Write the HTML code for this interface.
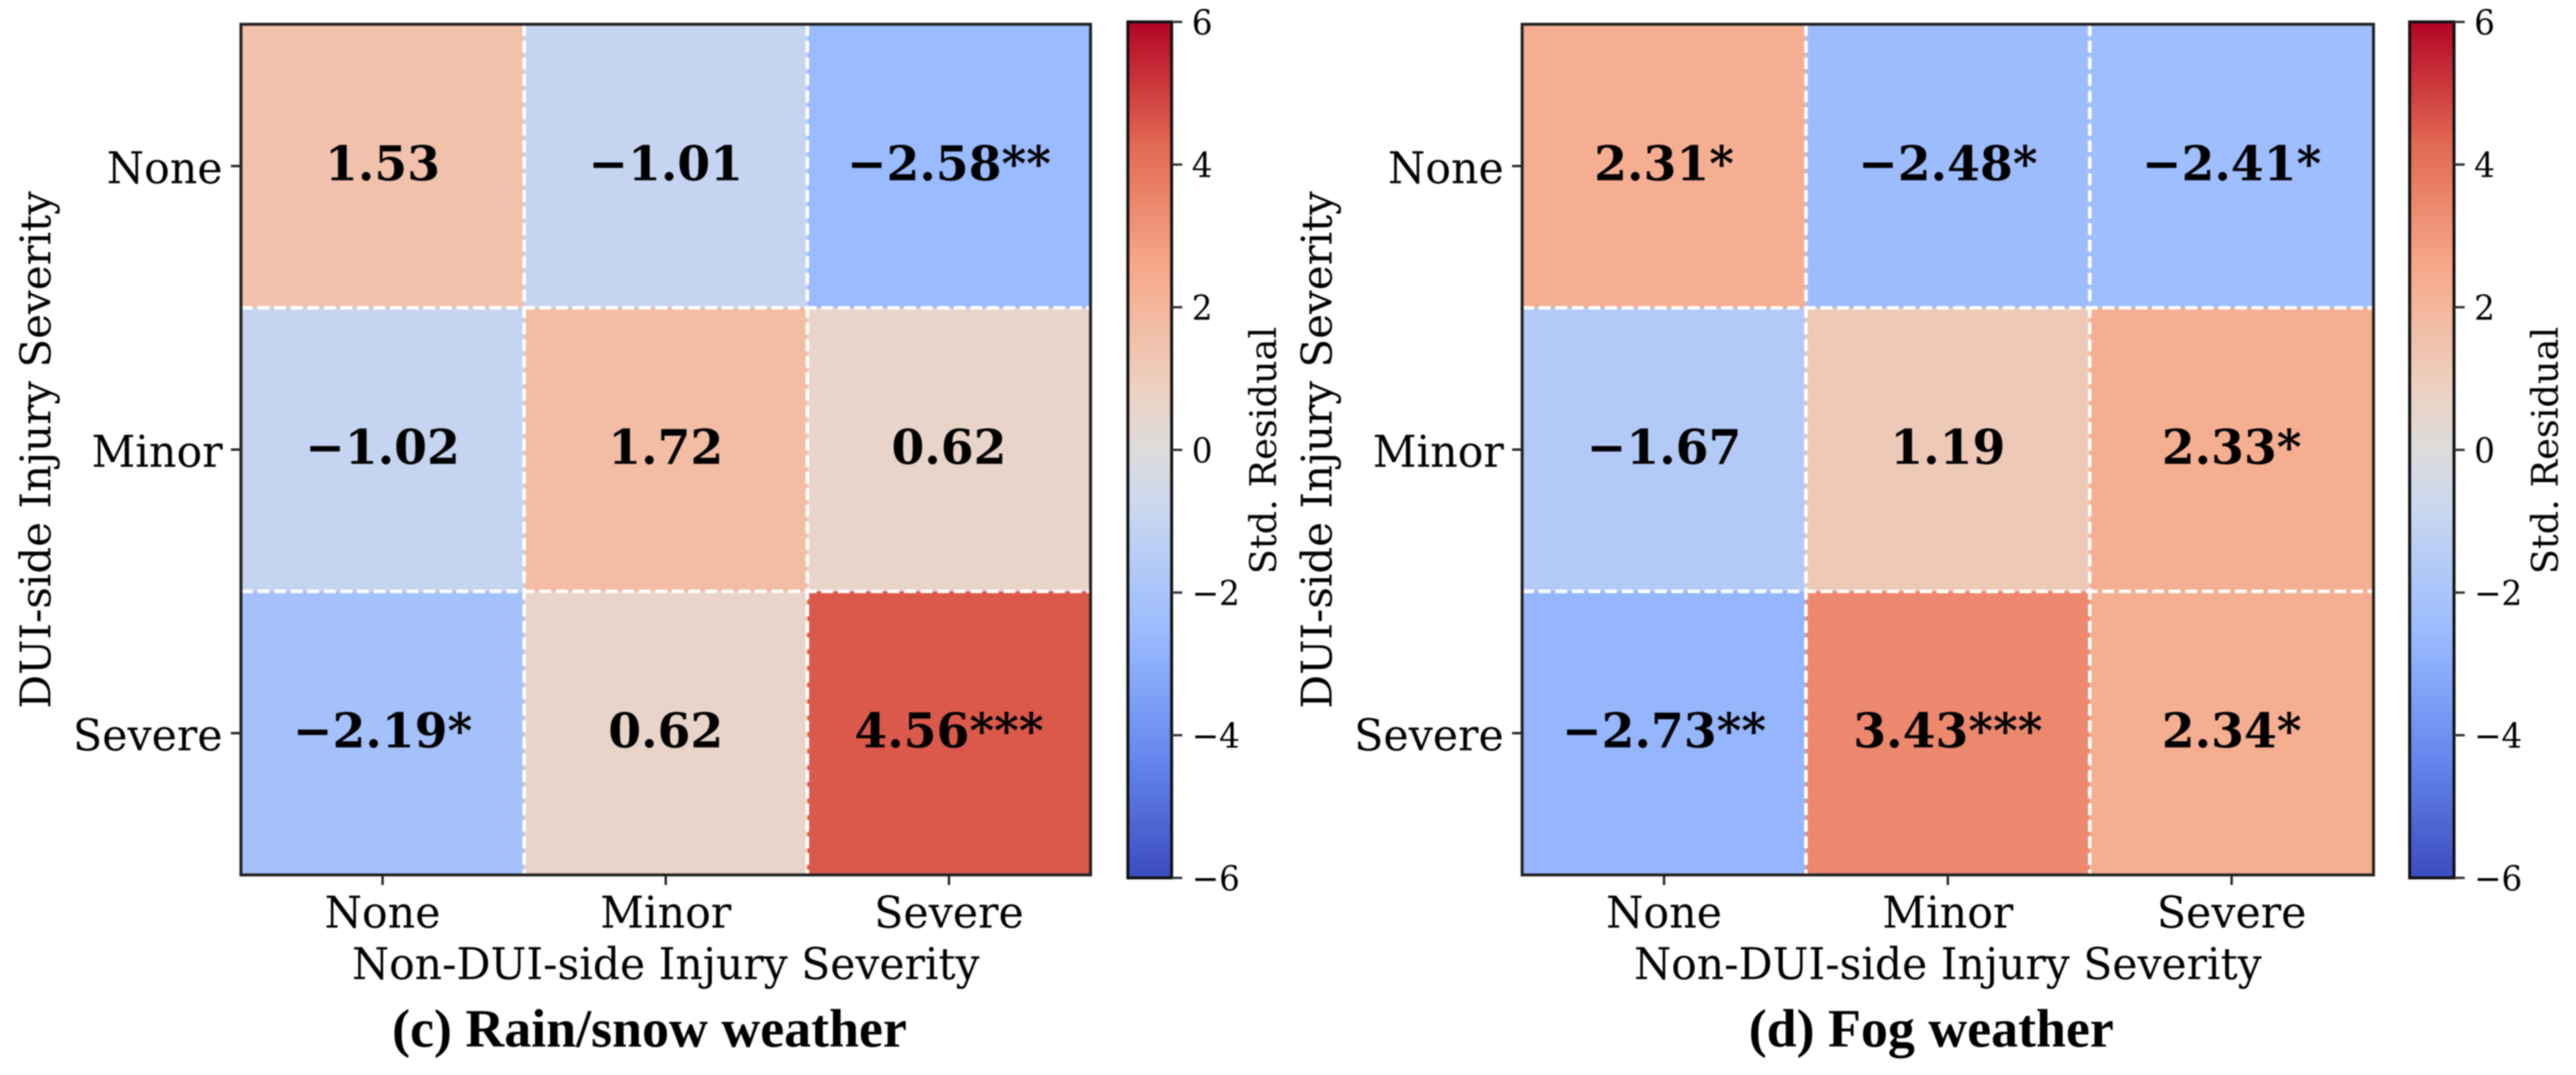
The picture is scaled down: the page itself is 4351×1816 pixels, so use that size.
<!DOCTYPE html>
<html lang="en">
<head>
<meta charset="utf-8">
<title>Standardized residual heatmaps</title>
<style>
html,body{margin:0;padding:0;background:#fff;width:4351px;height:1816px;overflow:hidden}
svg{display:block;filter:blur(1.1px)}
text{fill:#000;font-family:"DejaVu Serif","Liberation Serif",serif}
</style>
</head>
<body>
<svg id="figure" xmlns="http://www.w3.org/2000/svg" width="4351" height="1816" viewBox="0 0 4351 1816">
<rect width="4351" height="1816" fill="#fff"/>
<defs id="defs"></defs>
</svg>
<script>
const categories = ['None', 'Minor', 'Severe'];
const rainValues = [[1.53, -1.01, -2.58], [-1.02, 1.72, 0.62], [-2.19, 0.62, 4.56]];
const rainStars = [['', '', '**'], ['', '', ''], ['*', '', '***']];
const fogValues = [[2.31, -2.48, -2.41], [-1.67, 1.19, 2.33], [-2.73, 3.43, 2.34]];
const fogStars = [['*', '*', '*'], ['', '', '*'], ['**', '***', '*']];
const colorbarTicks = [6, 4, 2, 0, -2, -4, -6];
const colorMin = -6;
const colorMax = 6;

/* coolwarm colormap anchors */
const cmapPositions = [0, 1/7, 2/7, 3/7, 0.5, 4/7, 5/7, 6/7, 1];
const cmapColors = [[59,76,192],[103,136,238],[154,187,255],[201,215,240],[221,220,220],[237,209,194],[247,168,137],[226,105,82],[180,4,38]];

const NS = 'http://www.w3.org/2000/svg';
const figure = document.getElementById('figure');

function colorAt(t) {
  t = Math.max(0, Math.min(1, t));
  let i = 0;
  while (i < cmapPositions.length - 2 && t > cmapPositions[i + 1]) i++;
  const f = (t - cmapPositions[i]) / (cmapPositions[i + 1] - cmapPositions[i]);
  const c = cmapColors[i].map((a, k) => Math.round(a + (cmapColors[i + 1][k] - a) * f));
  return 'rgb(' + c.join(',') + ')';
}
function valueColor(v) { return colorAt((v - colorMin) / (colorMax - colorMin)); }
function fmt(v) { return (v < 0 ? '\u2212' : '') + Math.abs(v).toFixed(2); }
function tickFmt(v) { return (v < 0 ? '\u2212' : '') + Math.abs(v); }

function shape(parent, tag, props) {
  const el = document.createElementNS(NS, tag);
  for (const k in props) el.setAttribute(k, props[k]);
  parent.appendChild(el);
  return el;
}
function label(parent, str, x, y, o) {
  const sx = o.sx || 1;
  const props = {
    'font-size': o.size,
    'text-anchor': o.anchor || 'middle',
    transform: o.rotate
      ? 'translate(' + x + ' ' + y + ') rotate(-90)'
      : 'translate(' + x + ' ' + y + ') scale(' + sx + ' 1)'
  };
  if (o.bold) props['font-weight'] = 'bold';
  if (o.family) props['style'] = 'font-family:' + o.family;
  const el = shape(parent, 'text', props);
  el.textContent = str;
  return el;
}

function drawGradient() {
  const defs = document.getElementById('defs');
  const g = shape(defs, 'linearGradient', { id: 'coolwarm', x1: 0, y1: 1, x2: 0, y2: 0 });
  cmapPositions.forEach((p, i) => {
    const c = cmapColors[i];
    shape(g, 'stop', { offset: p, 'stop-color': 'rgb(' + c.join(',') + ')' });
  });
}

function drawPanel(frame, values, stars, title, titleX, id) {
  const n = categories.length;
  const root = shape(figure, 'g', {});
  
  

  const colX = i => frame.left + (frame.right - frame.left) * i / n;
  const rowY = j => frame.top + (frame.bottom - frame.top) * j / n;
  const cbY = v => frame.cbBottom - (v - colorMin) / (colorMax - colorMin) * (frame.cbBottom - frame.cbTop);

  values.forEach((row, j) => {
    row.forEach((v, i) => {
      const cell = shape(root, 'rect', { x: colX(i), y: rowY(j), width: colX(i + 1) - colX(i), height: rowY(j + 1) - rowY(j), fill: valueColor(v) });
      
      
    });
  });

  for (let k = 1; k < n; k++) {
    const vLine = shape(root, 'line', { x1: colX(k), x2: colX(k), y1: frame.top, y2: frame.bottom, stroke: '#fff', 'stroke-width': 6, 'stroke-dasharray': '20 8' });
    
    
    const hLine = shape(root, 'line', { x1: frame.left, x2: frame.right, y1: rowY(k), y2: rowY(k), stroke: '#fff', 'stroke-width': 6, 'stroke-dasharray': '20 8' });
    
    
  }

  values.forEach((row, j) => {
    row.forEach((v, i) => {
      const t = label(root, fmt(v) + stars[j][i], (colX(i) + colX(i + 1)) / 2, (rowY(j) + rowY(j + 1)) / 2 + 24, { size: 81, bold: true, sx: 0.985 });
      
      
    });
  });

  const border = shape(root, 'rect', { x: frame.left, y: frame.top, width: frame.right - frame.left, height: frame.bottom - frame.top, fill: 'none', stroke: '#222', 'stroke-width': 5 });
  
  

  categories.forEach((name, i) => {
    const cx = (colX(i) + colX(i + 1)) / 2;
    const cy = (rowY(i) + rowY(i + 1)) / 2;
    const xTick = shape(root, 'line', { x1: cx, x2: cx, y1: frame.bottom, y2: frame.bottom + 17, stroke: '#222', 'stroke-width': 4 });
    
    
    const xText = label(root, name, cx, 1567, { size: 74, sx: 0.975 });
    
    
    const yTick = shape(root, 'line', { x1: frame.left - 17, x2: frame.left, y1: cy, y2: cy, stroke: '#222', 'stroke-width': 4 });
    
    
    const yText = label(root, name, frame.left - 31, cy + 29, { size: 74, sx: 0.975, anchor: 'end' });
    
    
  });

  const xTitle = label(root, 'Non-DUI-side Injury Severity', (frame.left + frame.right) / 2, 1654, { size: 74, sx: 0.97 });
  
  
  const yTitle = label(root, 'DUI-side Injury Severity', frame.left - 322, 760, { size: 71, rotate: true });
  
  

  const bar = shape(root, 'rect', { x: frame.cbLeft, y: frame.cbTop, width: frame.cbRight - frame.cbLeft, height: frame.cbBottom - frame.cbTop, fill: 'url(#coolwarm)', stroke: '#111', 'stroke-width': 5 });
  
  
  colorbarTicks.forEach(v => {
    const y = cbY(v);
    const tick = shape(root, 'line', { x1: frame.cbRight, x2: frame.cbRight + 18, y1: y, y2: y, stroke: '#333', 'stroke-width': 4 });
    
    
    const t = label(root, tickFmt(v), frame.cbRight + 34, y + 21, { size: 58, sx: 0.95, anchor: 'start' });
    
    
  });
  const cbTitle = label(root, 'Std. Residual', frame.cbLeft + 250, 761, { size: 62, rotate: true });
  
  

  const cap = label(root, title, titleX, 1768, { size: 91, bold: true, family: '"Liberation Serif",serif' });
  
  
}

drawGradient();
drawPanel({ left: 407, right: 1842, top: 41, bottom: 1478, cbLeft: 1905, cbRight: 1979, cbTop: 37, cbBottom: 1483 }, rainValues, rainStars, '(c) Rain/snow weather', 1097, 'rain-snow');
drawPanel({ left: 2571, right: 4009, top: 41, bottom: 1478, cbLeft: 4070, cbRight: 4145, cbTop: 37, cbBottom: 1483 }, fogValues, fogStars, '(d) Fog weather', 3262, 'fog');
</script>
</body>
</html>
